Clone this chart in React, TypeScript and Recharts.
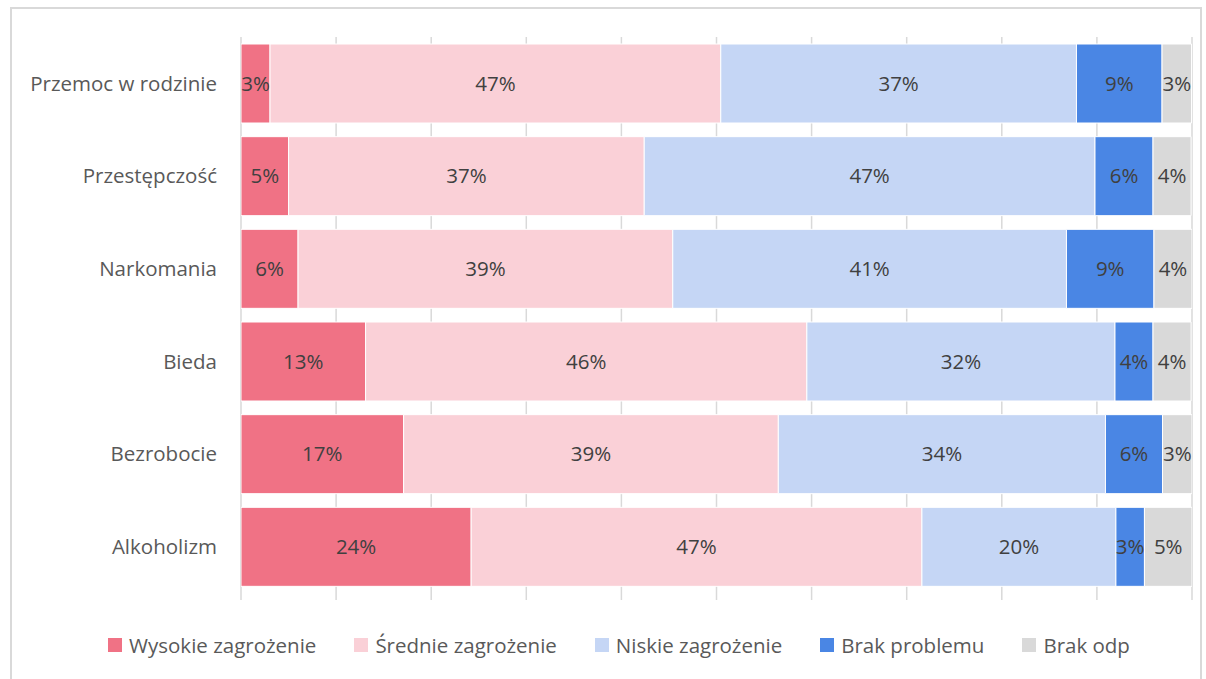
import { BarChart, Bar, XAxis, YAxis, CartesianGrid, Legend, LabelList } from 'recharts'

const categories = ['Przemoc w rodzinie', 'Przestępczość', 'Narkomania', 'Bieda', 'Bezrobocie', 'Alkoholizm']
const wysokie = [3.05, 5.0, 6.0, 13.1, 17.1, 24.2]
const srednie = [47.4, 37.4, 39.4, 46.4, 39.4, 47.4]
const niskie = [37.4, 47.4, 41.4, 32.4, 34.4, 20.4]
const brakProblemu = [9.0, 6.1, 9.2, 4.0, 6.0, 3.0]
const brakOdp = [3.1, 4.0, 4.0, 4.0, 3.1, 5.0]
const xTicks = [0, 10, 20, 30, 40, 50, 60, 70, 80, 90, 100]

const series = [
  { key: 'wysokie', name: 'Wysokie zagrożenie', color: '#f07285' },
  { key: 'srednie', name: 'Średnie zagrożenie', color: '#fad0d7' },
  { key: 'niskie', name: 'Niskie zagrożenie', color: '#c5d6f5' },
  { key: 'brakProblemu', name: 'Brak problemu', color: '#4a86e4' },
  { key: 'brakOdp', name: 'Brak odp', color: '#d9d9d9' },
]

const data = categories.map((name, i) => ({
  name,
  wysokie: wysokie[i],
  srednie: srednie[i],
  niskie: niskie[i],
  brakProblemu: brakProblemu[i],
  brakOdp: brakOdp[i],
}))

const FONT = '"Open Sans", "Noto Sans", sans-serif'

function LegendContent() {
  return (
    <div style={{ display: 'flex', justifyContent: 'center', gap: 38, paddingTop: 18, paddingLeft: 34, fontFamily: FONT, fontSize: 20.5, color: '#595959', lineHeight: '28px' }}>
      {series.map(s => (
        <div key={s.key} style={{ display: 'flex', alignItems: 'center' }}>
          <span style={{ width: 14, height: 14, background: s.color, marginRight: 7, display: 'inline-block' }} />
          <span>{s.name}</span>
        </div>
      ))}
    </div>
  )
}

export default function App() {
  return (
    <div style={{ position: 'absolute', left: 10, top: 7, width: 1192, height: 680, border: '2px solid #d9d9d9', boxSizing: 'border-box', background: '#fff' }}>
      <BarChart
        width={1190}
        height={670}
        data={data}
        layout="vertical"
        barCategoryGap={7}
        margin={{ top: 28, right: 10, left: 0, bottom: 16 }}
      >
        <CartesianGrid horizontal={false} stroke="#d9d9d9" strokeWidth={1.5} />
        <XAxis
          type="number"
          domain={[0, 100]}
          ticks={xTicks}
          allowDataOverflow
          axisLine={false}
          tickLine={{ stroke: '#d9d9d9', strokeWidth: 1.5 }}
          tickSize={7}
          tick={() => <g />}
          height={20}
        />
        <YAxis
          type="category"
          dataKey="name"
          width={229}
          axisLine={false}
          tickLine={false}
          tickMargin={18}
          tick={{ fill: '#595959', fontSize: 20.5, fontFamily: FONT }}
        />
        {series.map(s => (
          <Bar key={s.key} dataKey={s.key} name={s.name} stackId="a" fill={s.color} stroke="#fff" strokeWidth={1} isAnimationActive={false}>
            <LabelList
              dataKey={s.key}
              position="center"
              formatter={(v: number) => `${Math.round(v)}%`}
              style={{ fill: '#404040', fontSize: 20.5, fontFamily: FONT }}
            />
          </Bar>
        ))}
        <Legend verticalAlign="bottom" height={50} content={<LegendContent />} />
      </BarChart>
    </div>
  )
}
